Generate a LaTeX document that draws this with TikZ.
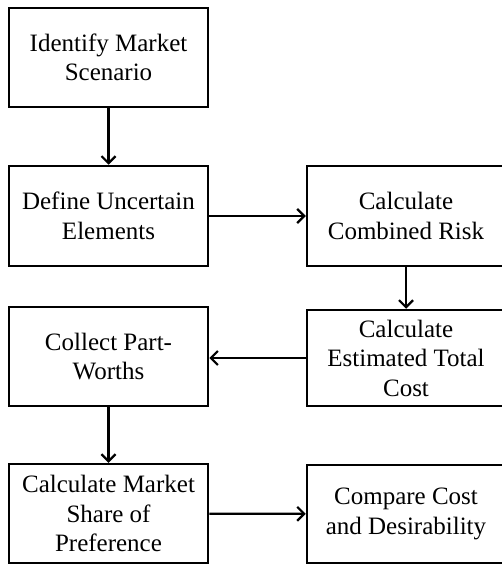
\documentclass[tikz,border=0pt]{standalone}
\usepackage{fontspec}
\setmainfont{Liberation Serif}
\usetikzlibrary{arrows.meta}
\begin{document}
\begin{tikzpicture}[x=1pt,y=-1pt,
 box/.style={draw, line width=2.5pt, minimum width=199pt, inner sep=0pt, align=center, font=\fontsize{25}{29.5}\selectfont},
 arr/.style={-{Straight Barb[length=7pt,width=14pt,line width=2.2pt]}, line width=2.2pt}]
\useasboundingbox (0,0) rectangle (502,564);
\node[box, minimum height=99pt] (b1) at (108.5,57.5) {Identify Market\\Scenario};
\node[box, minimum height=100pt] (b2) at (108.5,216) {Define Uncertain\\Elements};
\node[box, minimum width=198pt, minimum height=100pt] (b3) at (406,216) {Calculate\\Combined Risk};
\node[box, minimum width=198pt, minimum height=96pt] (b4) at (406,358) {Calculate\\Estimated Total\\Cost};
\node[box, minimum height=99pt] (b5) at (108.5,356.5) {Collect Part-\\Worths};
\node[box, minimum height=99pt] (b6) at (108.5,513.5) {Calculate Market\\Share of\\Preference};
\node[box, minimum width=198pt, minimum height=98pt] (b7) at (406,514) {Compare Cost\\and Desirability};
\draw[arr] (b1) -- (b2);
\draw[arr] (b2) -- (b3);
\draw[arr] (b3) -- (b4);
\draw[arr] (b4.west) -- (b4.west -| b5.east);
\draw[arr] (b5) -- (b6);
\draw[arr] (b6) -- (b7);
\end{tikzpicture}
\end{document}
